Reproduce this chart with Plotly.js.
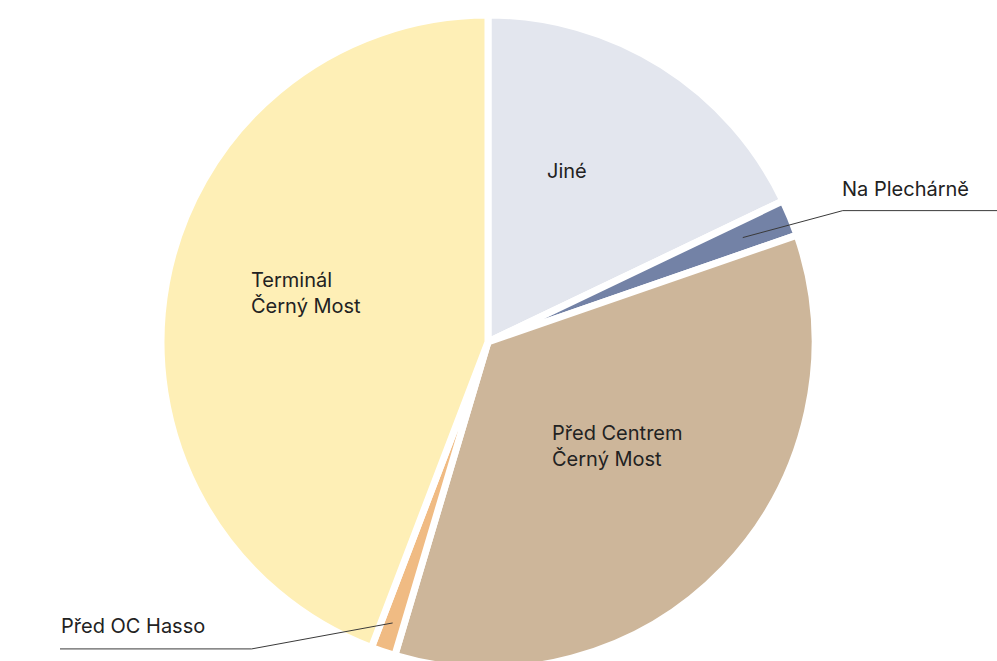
<!DOCTYPE html>
<html>
<head>
<meta charset="utf-8">
<script src="https://cdn.plot.ly/plotly-3.0.1.min.js"></script>
<style>
html,body{margin:0;padding:0;background:#fff;overflow:hidden;}
#chart{width:997px;height:684px;}
</style>
</head>
<body>
<div id="chart"></div>
<script>
// ---- data ----
const labels = ['Jiné', 'Na Plechárně', 'Před Centrem<br>Černý Most', 'Před OC Hasso', 'Terminál<br>Černý Most'];
const values = [17.9, 1.8, 34.9, 1.2, 44.2];
const colors = ['#e3e6ee', '#7382a6', '#cdb69a', '#f0bb83', '#feefb6'];

// ---- label styling (positions relative to slice geometry) ----
const labelStyle = [
  {type: 'inside', dAngle: -7.5, rFrac: 0.583},
  {type: 'outside', rFrac: 0.85, elbow: [100, -27], lineTo: 'right', textDx: -2, textDy: -9},
  {type: 'inside', dAngle: -5, rFrac: 0.512},
  {type: 'outside', rFrac: 0.917, elbow: [-141, 26], lineTo: 60, textDy: -10},
  {type: 'inside', dAngle: 4.6, rFrac: 0.582}
];

const W = 997, H = 684;
const M = {l: 0, r: 21, t: 14.5, b: 14.5};
const lineW = 7;
const PW = W - M.l - M.r, PH = H - M.t - M.b;
const R = Math.min(PW, PH) / 2;
const cx = M.l + PW / 2;
const cy = M.t + PH / 2;
const Rv = R - lineW / 2;

const total = values.reduce((a, b) => a + b, 0);
function polar(deg, r) {
  const a = deg * Math.PI / 180;
  return [cx + r * Math.sin(a), cy - r * Math.cos(a)];
}
// pixel -> paper (paper coordinates span the plot area inside the margins)
const px = x => (x - M.l) / PW;
const py = y => 1 - (y - M.t) / PH;

const annotations = [];
const shapes = [];
let cum = 0;
values.forEach((v, i) => {
  const a0 = cum / total * 360;
  cum += v;
  const a1 = cum / total * 360;
  const mid = (a0 + a1) / 2;
  const s = labelStyle[i];
  const font = {family: 'Inter, "Noto Sans", sans-serif', size: 20, color: '#222222'};
  if (s.type === 'inside') {
    const p = polar(mid + s.dAngle, s.rFrac * Rv);
    annotations.push({x: px(p[0]), y: py(p[1]), xref: 'paper', yref: 'paper',
      text: labels[i], showarrow: false, xanchor: 'center', yanchor: 'middle', align: 'left', font});
  } else {
    const p = polar(mid, s.rFrac * Rv);
    const e = [p[0] + s.elbow[0], p[1] + s.elbow[1]];
    const endX = s.lineTo === 'right' ? W : s.lineTo;
    shapes.push({type: 'path', xref: 'paper', yref: 'paper',
      path: `M ${px(p[0])},${py(p[1])} L ${px(e[0])},${py(e[1])} L ${px(endX)},${py(e[1])}`,
      line: {color: '#3a3a3a', width: 1}});
    const tx = s.lineTo === 'right' ? e[0] + s.textDx : endX;
    annotations.push({x: px(tx), y: py(e[1] + s.textDy), xref: 'paper', yref: 'paper',
      text: labels[i], showarrow: false, xanchor: 'left', yanchor: 'bottom', align: 'left', font,
      borderpad: 0});
  }
});

const data = [{
  type: 'pie',
  labels: labels,
  values: values,
  sort: false,
  direction: 'clockwise',
  rotation: 0,
  textinfo: 'none',
  hoverinfo: 'label+percent',
  marker: {colors: colors, line: {color: '#ffffff', width: lineW}},
  showlegend: false
}];

const layout = {
  width: W, height: H,
  margin: M,
  paper_bgcolor: '#ffffff',
  plot_bgcolor: '#ffffff',
  showlegend: false,
  annotations: annotations,
  shapes: shapes
};

Plotly.newPlot('chart', data, layout, {displayModeBar: false, staticPlot: true});
</script>
</body>
</html>
